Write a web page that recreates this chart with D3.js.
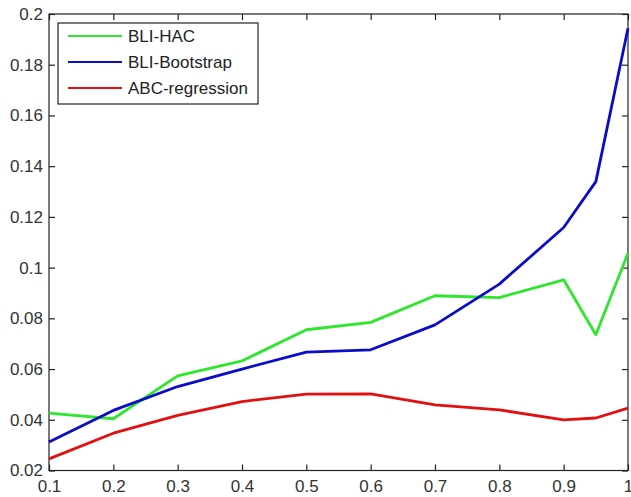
<!DOCTYPE html>
<html><head><meta charset="utf-8">
<script src="https://cdn.jsdelivr.net/npm/d3@7"></script>
<style>html,body{margin:0;padding:0;background:#fff;}svg{display:block;}</style>
</head><body>
<svg id="c" width="631" height="497"></svg>
<script>
const xs = [0.1,0.2,0.3,0.4,0.5,0.6,0.7,0.8,0.9,0.95,1.0];
const hac = [0.0426,0.0404,0.0573,0.0632,0.0755,0.0784,0.0889,0.0882,0.0952,0.0735,0.1057];
const boot = [0.0312,0.0437,0.0531,0.0600,0.0667,0.0676,0.0774,0.0935,0.1158,0.1339,0.1944];
const abc = [0.0246,0.0347,0.0417,0.0472,0.0501,0.0502,0.0459,0.0439,0.0400,0.0407,0.0446];
const seriesNames = ["BLI-HAC","BLI-Bootstrap","ABC-regression"];
const colors = ["#2ee62e","#0c0cc8","#e01010"];
const xTicks = [0.1,0.2,0.3,0.4,0.5,0.6,0.7,0.8,0.9,1];
const yTicks = [0.02,0.04,0.06,0.08,0.1,0.12,0.14,0.16,0.18,0.2];

const svg = d3.select("#c");
const L=49, R=628, T=14, B=470.5;
const x = d3.scaleLinear().domain([0.1,1]).range([L,R]);
const y = d3.scaleLinear().domain([0.02,0.2]).range([B,T]);
const font = "'Liberation Sans', Arial, sans-serif";
const axColor = "#222";

// box
svg.append("rect").attr("x",L).attr("y",T).attr("width",R-L).attr("height",B-T)
  .attr("fill","none").attr("stroke",axColor).attr("stroke-width",1.2);

const tl = 6;
// bottom axis
const gb = svg.append("g").attr("transform",`translate(0,${B})`)
  .call(d3.axisBottom(x).tickValues(xTicks).tickFormat(d=>d3.format("")(d)).tickSizeInner(-tl).tickSizeOuter(0).tickPadding(9));
// top
const gt = svg.append("g").attr("transform",`translate(0,${T})`)
  .call(d3.axisTop(x).tickValues(xTicks).tickFormat("").tickSizeInner(-tl).tickSizeOuter(0));
// left
const gl = svg.append("g").attr("transform",`translate(${L},0)`)
  .call(d3.axisLeft(y).tickValues(yTicks).tickFormat(d=>d3.format("")(+d.toFixed(2))).tickSizeInner(-tl).tickSizeOuter(0).tickPadding(6));
// right
const gr = svg.append("g").attr("transform",`translate(${R},0)`)
  .call(d3.axisRight(y).tickValues(yTicks).tickFormat("").tickSizeInner(-tl).tickSizeOuter(0));
[gb,gt,gl,gr].forEach(g=>{
  g.select(".domain").remove();
  g.selectAll(".tick line").attr("stroke",axColor).attr("stroke-width",1.2);
  g.selectAll("text").attr("fill","#333").attr("font-family",font).attr("font-size","17px");
});

const line = d3.line().x((d,i)=>x(xs[i])).y(d=>y(d));
[hac,boot,abc].forEach((s,k)=>{
  svg.append("path").datum(s).attr("d",line).attr("fill","none")
    .attr("stroke",colors[k]).attr("stroke-width",2.8).attr("stroke-linejoin","round");
});

// legend
const lg = svg.append("g");
lg.append("rect").attr("x",58).attr("y",23).attr("width",200).attr("height",81)
  .attr("fill","#fff").attr("stroke",axColor).attr("stroke-width",1.2);
seriesNames.forEach((n,k)=>{
  const yy = 36 + k*26;
  lg.append("line").attr("x1",68).attr("x2",122).attr("y1",yy).attr("y2",yy)
    .attr("stroke",colors[k]).attr("stroke-width",2.2);
  lg.append("text").attr("x",128).attr("y",yy).attr("dy","0.36em")
    .attr("font-family",font).attr("font-size","17px").attr("fill","#222").text(n);
});
</script>
</body></html>
